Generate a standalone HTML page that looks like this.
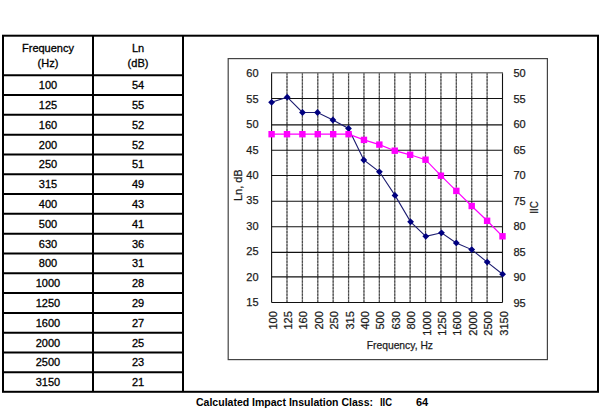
<!DOCTYPE html>
<html><head><meta charset="utf-8"><title>IIC</title>
<style>
html,body{margin:0;padding:0;background:#fff;}
body{width:600px;height:410px;overflow:hidden;font-family:"Liberation Sans",sans-serif;}
svg{display:block;}
text{font-family:"Liberation Sans",sans-serif;}
.t{font-size:11px;fill:#000;text-anchor:middle;stroke:#000;stroke-width:0.3px;}
.c{font-size:11px;fill:#1c1c1c;stroke:#1c1c1c;stroke-width:0.25px;}
.b{font-size:11px;font-weight:bold;fill:#000;}
</style></head><body>
<svg width="600" height="410" viewBox="0 0 600 410">
<rect x="0" y="0" width="600" height="410" fill="#fff"/>

<g stroke="#000" stroke-width="2" fill="none">
<rect x="3.0" y="35.7" width="595.0" height="356.1"/>
<line x1="93.0" y1="35.7" x2="93.0" y2="391.8"/>
<line x1="183.0" y1="35.7" x2="183.0" y2="391.8"/>
<line x1="3.0" y1="75.20" x2="183.0" y2="75.20"/>
<line x1="3.0" y1="95.01" x2="183.0" y2="95.01"/>
<line x1="3.0" y1="114.82" x2="183.0" y2="114.82"/>
<line x1="3.0" y1="134.63" x2="183.0" y2="134.63"/>
<line x1="3.0" y1="154.44" x2="183.0" y2="154.44"/>
<line x1="3.0" y1="174.25" x2="183.0" y2="174.25"/>
<line x1="3.0" y1="194.06" x2="183.0" y2="194.06"/>
<line x1="3.0" y1="213.87" x2="183.0" y2="213.87"/>
<line x1="3.0" y1="233.68" x2="183.0" y2="233.68"/>
<line x1="3.0" y1="253.49" x2="183.0" y2="253.49"/>
<line x1="3.0" y1="273.30" x2="183.0" y2="273.30"/>
<line x1="3.0" y1="293.11" x2="183.0" y2="293.11"/>
<line x1="3.0" y1="312.92" x2="183.0" y2="312.92"/>
<line x1="3.0" y1="332.73" x2="183.0" y2="332.73"/>
<line x1="3.0" y1="352.54" x2="183.0" y2="352.54"/>
<line x1="3.0" y1="372.35" x2="183.0" y2="372.35"/>
</g>
<text class="t" x="48.0" y="51.9">Frequency</text>
<text class="t" x="48.0" y="67.3">(Hz)</text>
<text class="t" x="138.0" y="51.9">Ln</text>
<text class="t" x="138.0" y="67.3">(dB)</text>
<text class="t" x="48.0" y="89.11">100</text>
<text class="t" x="138.0" y="89.11">54</text>
<text class="t" x="48.0" y="108.92">125</text>
<text class="t" x="138.0" y="108.92">55</text>
<text class="t" x="48.0" y="128.72">160</text>
<text class="t" x="138.0" y="128.72">52</text>
<text class="t" x="48.0" y="148.53">200</text>
<text class="t" x="138.0" y="148.53">52</text>
<text class="t" x="48.0" y="168.34">250</text>
<text class="t" x="138.0" y="168.34">51</text>
<text class="t" x="48.0" y="188.16">315</text>
<text class="t" x="138.0" y="188.16">49</text>
<text class="t" x="48.0" y="207.97">400</text>
<text class="t" x="138.0" y="207.97">43</text>
<text class="t" x="48.0" y="227.78">500</text>
<text class="t" x="138.0" y="227.78">41</text>
<text class="t" x="48.0" y="247.59">630</text>
<text class="t" x="138.0" y="247.59">36</text>
<text class="t" x="48.0" y="267.39">800</text>
<text class="t" x="138.0" y="267.39">31</text>
<text class="t" x="48.0" y="287.20">1000</text>
<text class="t" x="138.0" y="287.20">28</text>
<text class="t" x="48.0" y="307.01">1250</text>
<text class="t" x="138.0" y="307.01">29</text>
<text class="t" x="48.0" y="326.82">1600</text>
<text class="t" x="138.0" y="326.82">27</text>
<text class="t" x="48.0" y="346.63">2000</text>
<text class="t" x="138.0" y="346.63">25</text>
<text class="t" x="48.0" y="366.44">2500</text>
<text class="t" x="138.0" y="366.44">23</text>
<text class="t" x="48.0" y="386.25">3150</text>
<text class="t" x="138.0" y="386.25">21</text>
<rect x="228.2" y="58.6" width="319.2" height="301.0" fill="#fff" stroke="#444" stroke-width="1.2"/>
<g stroke="#8a8a8a" stroke-width="1.3">
<line x1="286.99" y1="72.6" x2="286.99" y2="302.5"/>
<line x1="302.39" y1="72.6" x2="302.39" y2="302.5"/>
<line x1="317.78" y1="72.6" x2="317.78" y2="302.5"/>
<line x1="333.17" y1="72.6" x2="333.17" y2="302.5"/>
<line x1="348.57" y1="72.6" x2="348.57" y2="302.5"/>
<line x1="363.96" y1="72.6" x2="363.96" y2="302.5"/>
<line x1="379.35" y1="72.6" x2="379.35" y2="302.5"/>
<line x1="394.75" y1="72.6" x2="394.75" y2="302.5"/>
<line x1="410.14" y1="72.6" x2="410.14" y2="302.5"/>
<line x1="425.53" y1="72.6" x2="425.53" y2="302.5"/>
<line x1="440.93" y1="72.6" x2="440.93" y2="302.5"/>
<line x1="456.32" y1="72.6" x2="456.32" y2="302.5"/>
<line x1="471.71" y1="72.6" x2="471.71" y2="302.5"/>
<line x1="487.11" y1="72.6" x2="487.11" y2="302.5"/>
</g>
<g stroke="#444" stroke-width="1" stroke-dasharray="2.1,1.2">
<line x1="286.99" y1="72.6" x2="286.99" y2="302.5"/>
<line x1="302.39" y1="72.6" x2="302.39" y2="302.5"/>
<line x1="317.78" y1="72.6" x2="317.78" y2="302.5"/>
<line x1="333.17" y1="72.6" x2="333.17" y2="302.5"/>
<line x1="348.57" y1="72.6" x2="348.57" y2="302.5"/>
<line x1="363.96" y1="72.6" x2="363.96" y2="302.5"/>
<line x1="379.35" y1="72.6" x2="379.35" y2="302.5"/>
<line x1="394.75" y1="72.6" x2="394.75" y2="302.5"/>
<line x1="410.14" y1="72.6" x2="410.14" y2="302.5"/>
<line x1="425.53" y1="72.6" x2="425.53" y2="302.5"/>
<line x1="440.93" y1="72.6" x2="440.93" y2="302.5"/>
<line x1="456.32" y1="72.6" x2="456.32" y2="302.5"/>
<line x1="471.71" y1="72.6" x2="471.71" y2="302.5"/>
<line x1="487.11" y1="72.6" x2="487.11" y2="302.5"/>
</g>
<g stroke="#111" stroke-width="1.1">
<line x1="271.6" y1="302.50" x2="502.5" y2="302.50"/>
<line x1="271.6" y1="276.90" x2="502.5" y2="276.90"/>
<line x1="271.6" y1="252.40" x2="502.5" y2="252.40"/>
<line x1="271.6" y1="226.80" x2="502.5" y2="226.80"/>
<line x1="271.6" y1="201.30" x2="502.5" y2="201.30"/>
<line x1="271.6" y1="175.50" x2="502.5" y2="175.50"/>
<line x1="271.6" y1="150.30" x2="502.5" y2="150.30"/>
<line x1="271.6" y1="124.90" x2="502.5" y2="124.90"/>
<line x1="271.6" y1="98.50" x2="502.5" y2="98.50"/>
<line x1="271.6" y1="72.6" x2="271.6" y2="302.5"/>
<line x1="502.5" y1="72.6" x2="502.5" y2="302.5"/>
</g>
<line x1="271.1" y1="72.75" x2="503.0" y2="72.75" stroke="#7a7a7a" stroke-width="1.3"/>
<text class="c" text-anchor="end" x="258.6" y="77.30">60</text>
<text class="c" text-anchor="start" x="513.4" y="77.30">50</text>
<text class="c" text-anchor="end" x="258.6" y="102.71">55</text>
<text class="c" text-anchor="start" x="513.4" y="102.81">55</text>
<text class="c" text-anchor="end" x="258.6" y="128.12">50</text>
<text class="c" text-anchor="start" x="513.4" y="128.32">60</text>
<text class="c" text-anchor="end" x="258.6" y="153.53">45</text>
<text class="c" text-anchor="start" x="513.4" y="153.83">65</text>
<text class="c" text-anchor="end" x="258.6" y="178.94">40</text>
<text class="c" text-anchor="start" x="513.4" y="179.34">70</text>
<text class="c" text-anchor="end" x="258.6" y="204.35">35</text>
<text class="c" text-anchor="start" x="513.4" y="204.85">75</text>
<text class="c" text-anchor="end" x="258.6" y="229.76">30</text>
<text class="c" text-anchor="start" x="513.4" y="230.36">80</text>
<text class="c" text-anchor="end" x="258.6" y="255.17">25</text>
<text class="c" text-anchor="start" x="513.4" y="255.87">85</text>
<text class="c" text-anchor="end" x="258.6" y="280.58">20</text>
<text class="c" text-anchor="start" x="513.4" y="281.38">90</text>
<text class="c" text-anchor="end" x="258.6" y="305.99">15</text>
<text class="c" text-anchor="start" x="513.4" y="306.89">95</text>
<text class="c" text-anchor="end" transform="translate(276.70,311.2) rotate(-90)">100</text>
<text class="c" text-anchor="end" transform="translate(292.09,311.2) rotate(-90)">125</text>
<text class="c" text-anchor="end" transform="translate(307.49,311.2) rotate(-90)">160</text>
<text class="c" text-anchor="end" transform="translate(322.88,311.2) rotate(-90)">200</text>
<text class="c" text-anchor="end" transform="translate(338.27,311.2) rotate(-90)">250</text>
<text class="c" text-anchor="end" transform="translate(353.67,311.2) rotate(-90)">315</text>
<text class="c" text-anchor="end" transform="translate(369.06,311.2) rotate(-90)">400</text>
<text class="c" text-anchor="end" transform="translate(384.45,311.2) rotate(-90)">500</text>
<text class="c" text-anchor="end" transform="translate(399.85,311.2) rotate(-90)">630</text>
<text class="c" text-anchor="end" transform="translate(415.24,311.2) rotate(-90)">800</text>
<text class="c" text-anchor="end" transform="translate(430.63,311.2) rotate(-90)">1000</text>
<text class="c" text-anchor="end" transform="translate(446.03,311.2) rotate(-90)">1250</text>
<text class="c" text-anchor="end" transform="translate(461.42,311.2) rotate(-90)">1600</text>
<text class="c" text-anchor="end" transform="translate(476.81,311.2) rotate(-90)">2000</text>
<text class="c" text-anchor="end" transform="translate(492.21,311.2) rotate(-90)">2500</text>
<text class="c" text-anchor="end" transform="translate(507.60,311.2) rotate(-90)">3150</text>
<text class="c" text-anchor="middle" transform="translate(241.8,185.2) rotate(-90)">Ln, dB</text>
<text class="c" style="font-size:10.5px" text-anchor="middle" transform="translate(537.6,207.5) rotate(-90)" textLength="12.6" lengthAdjust="spacingAndGlyphs">IIC</text>
<text class="c" x="366.7" y="348.8" textLength="66.3" lengthAdjust="spacingAndGlyphs">Frequency, Hz</text>
<polyline points="271.60,102.30 287.20,97.20 302.50,112.50 317.50,112.50 332.90,120.00 348.50,128.40 363.80,160.00 379.40,171.80 395.00,195.40 410.60,221.80 425.80,236.30 441.50,232.80 456.30,242.90 471.70,249.60 487.20,262.10 502.60,274.20" fill="none" stroke="#1c1c70" stroke-width="1.1"/>
<polyline points="271.60,134.20 286.99,134.20 302.39,134.20 317.78,134.20 333.17,134.20 348.57,134.20 363.96,139.90 379.35,144.60 394.75,150.70 410.14,154.80 425.53,159.70 440.93,175.70 456.32,190.90 471.71,206.00 487.11,220.80 502.50,236.30" fill="none" stroke="#ff00ff" stroke-width="1.2"/>
<path d="M271.60,98.90 L275.00,102.30 L271.60,105.70 L268.20,102.30 Z" fill="#000080"/>
<path d="M287.20,93.80 L290.60,97.20 L287.20,100.60 L283.80,97.20 Z" fill="#000080"/>
<path d="M302.50,109.10 L305.90,112.50 L302.50,115.90 L299.10,112.50 Z" fill="#000080"/>
<path d="M317.50,109.10 L320.90,112.50 L317.50,115.90 L314.10,112.50 Z" fill="#000080"/>
<path d="M332.90,116.60 L336.30,120.00 L332.90,123.40 L329.50,120.00 Z" fill="#000080"/>
<path d="M348.50,125.00 L351.90,128.40 L348.50,131.80 L345.10,128.40 Z" fill="#000080"/>
<path d="M363.80,156.60 L367.20,160.00 L363.80,163.40 L360.40,160.00 Z" fill="#000080"/>
<path d="M379.40,168.40 L382.80,171.80 L379.40,175.20 L376.00,171.80 Z" fill="#000080"/>
<path d="M395.00,192.00 L398.40,195.40 L395.00,198.80 L391.60,195.40 Z" fill="#000080"/>
<path d="M410.60,218.40 L414.00,221.80 L410.60,225.20 L407.20,221.80 Z" fill="#000080"/>
<path d="M425.80,232.90 L429.20,236.30 L425.80,239.70 L422.40,236.30 Z" fill="#000080"/>
<path d="M441.50,229.40 L444.90,232.80 L441.50,236.20 L438.10,232.80 Z" fill="#000080"/>
<path d="M456.30,239.50 L459.70,242.90 L456.30,246.30 L452.90,242.90 Z" fill="#000080"/>
<path d="M471.70,246.20 L475.10,249.60 L471.70,253.00 L468.30,249.60 Z" fill="#000080"/>
<path d="M487.20,258.70 L490.60,262.10 L487.20,265.50 L483.80,262.10 Z" fill="#000080"/>
<path d="M502.60,270.80 L506.00,274.20 L502.60,277.60 L499.20,274.20 Z" fill="#000080"/>
<rect x="268.40" y="131.00" width="6.4" height="6.4" fill="#ff00ff"/>
<rect x="283.79" y="131.00" width="6.4" height="6.4" fill="#ff00ff"/>
<rect x="299.19" y="131.00" width="6.4" height="6.4" fill="#ff00ff"/>
<rect x="314.58" y="131.00" width="6.4" height="6.4" fill="#ff00ff"/>
<rect x="329.97" y="131.00" width="6.4" height="6.4" fill="#ff00ff"/>
<rect x="345.37" y="131.00" width="6.4" height="6.4" fill="#ff00ff"/>
<rect x="360.76" y="136.70" width="6.4" height="6.4" fill="#ff00ff"/>
<rect x="376.15" y="141.40" width="6.4" height="6.4" fill="#ff00ff"/>
<rect x="391.55" y="147.50" width="6.4" height="6.4" fill="#ff00ff"/>
<rect x="406.94" y="151.60" width="6.4" height="6.4" fill="#ff00ff"/>
<rect x="422.33" y="156.50" width="6.4" height="6.4" fill="#ff00ff"/>
<rect x="437.73" y="172.50" width="6.4" height="6.4" fill="#ff00ff"/>
<rect x="453.12" y="187.70" width="6.4" height="6.4" fill="#ff00ff"/>
<rect x="468.51" y="202.80" width="6.4" height="6.4" fill="#ff00ff"/>
<rect x="483.91" y="217.60" width="6.4" height="6.4" fill="#ff00ff"/>
<rect x="499.30" y="233.10" width="6.4" height="6.4" fill="#ff00ff"/>
<text class="b" x="196" y="406.2" textLength="177" lengthAdjust="spacingAndGlyphs">Calculated Impact Insulation Class:</text>
<text class="b" x="380" y="406.2" textLength="12" lengthAdjust="spacingAndGlyphs">IIC</text>
<text class="b" x="416" y="406.2">64</text>
</svg></body></html>
